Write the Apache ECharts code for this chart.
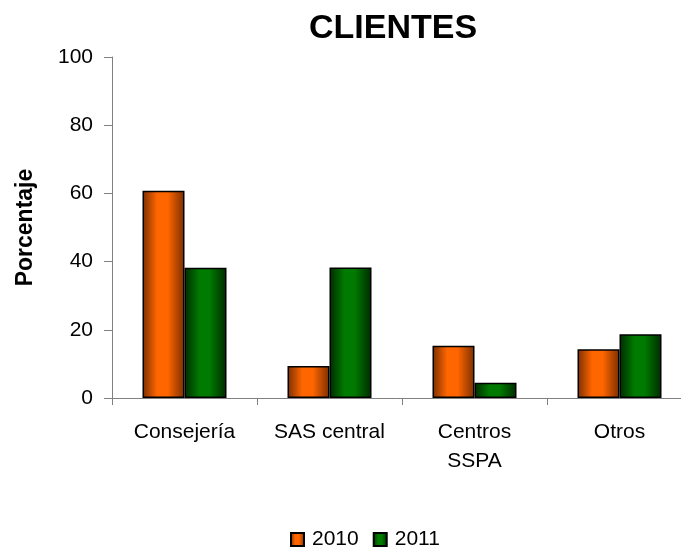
<!DOCTYPE html>
<html>
<head>
<meta charset="utf-8">
<script src="https://cdn.jsdelivr.net/npm/echarts@6/dist/echarts.min.js"></script>
<style>
  html, body { margin: 0; padding: 0; background: #fff; }
  #chart { width: 681px; height: 550px; }
</style>
</head>
<body>
<div id="chart"></div>
<script>
  // datos
  const categories = ['Consejería', 'SAS central', 'Centros\nSSPA', 'Otros'];
  const years = ['2010', '2011'];
  const values2010 = [60.8, 9.4, 15.3, 14.3];
  const values2011 = [38.2, 38.3, 4.5, 18.7];
  const yTicks = [0, 20, 40, 60, 80, 100];

  const font = 'Liberation Sans, Arial, sans-serif';

  function shade(dark, light) {
    return new echarts.graphic.LinearGradient(0, 0, 1, 0, [
      {offset: 0, color: dark},
      {offset: 0.35, color: light},
      {offset: 0.6, color: light},
      {offset: 1, color: dark}
    ]);
  }

  let chart = echarts.init(document.getElementById('chart'));
  chart.setOption({
    animation: false,
    textStyle: {fontFamily: font},
    title: {
      text: 'CLIENTES',
      left: 388,
      textAlign: 'center',
      top: 7,
      textStyle: {fontSize: 34, fontWeight: 'bold', color: '#000', fontFamily: font}
    },
    legend: {
      data: years,
      top: 524,
      left: 285,
      icon: 'rect',
      itemWidth: 13,
      itemHeight: 13,
      itemGap: 14,
      textStyle: {fontSize: 21, color: '#000', padding: [0, 0, 0, 3]}
    },
    grid: {
      left: 112,
      top: 57,
      width: 580,
      bottom: 152,
      containLabel: false,
      outerBoundsMode: 'none'
    },
    xAxis: {
      type: 'category',
      data: categories,
      axisLine: {lineStyle: {color: '#808080', width: 1}},
      axisTick: {show: true, length: 7, alignWithLabel: false, lineStyle: {color: '#808080'}},
      axisLabel: {fontSize: 21, color: '#000', margin: 20, lineHeight: 29, interval: 0}
    },
    yAxis: {
      type: 'value',
      min: yTicks[0],
      max: yTicks[yTicks.length - 1],
      interval: 20,
      name: 'Porcentaje',
      nameLocation: 'middle',
      nameGap: 75,
      nameTextStyle: {fontSize: 23, fontWeight: 'bold', color: '#000'},
      axisLine: {show: true, lineStyle: {color: '#808080', width: 1}},
      axisTick: {show: true, length: 8, lineStyle: {color: '#808080'}},
      axisLabel: {fontSize: 21, color: '#000', margin: 19},
      splitLine: {show: false}
    },
    series: [
      {
        name: years[0],
        type: 'bar',
        data: values2010,
        barWidth: 42,
        barGap: '0%',
        itemStyle: {color: shade('#7a2e00', '#ff6600'), borderColor: '#000', borderWidth: 1.5}
      },
      {
        name: years[1],
        type: 'bar',
        data: values2011,
        barWidth: 42,
        barGap: '0%',
        itemStyle: {color: shade('#002a00', '#007a00'), borderColor: '#000', borderWidth: 1.5}
      }
    ]
  });
</script>
</body>
</html>
